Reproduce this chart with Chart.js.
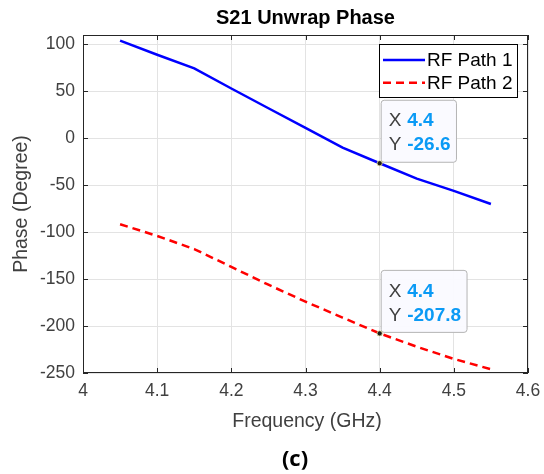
<!DOCTYPE html>
<html>
<head>
<meta charset="utf-8">
<script src="https://cdn.jsdelivr.net/npm/chart.js@4.4.1/dist/chart.umd.min.js"></script>
<style>
  html, body { margin: 0; padding: 0; background: #ffffff; }
  canvas { display: block; }
</style>
</head>
<body>
<canvas id="chart" width="544" height="474"></canvas>
<script>
// Frequency points (GHz)
const frequency = [4.05, 4.10, 4.15, 4.20, 4.25, 4.30, 4.35, 4.40, 4.45, 4.50, 4.55];
// Unwrapped S21 phase (degrees)
const rfPath1 = [104, 89, 74.5, 53, 32, 11, -10, -26.6, -43, -56, -70];
const rfPath2 = [-91.5, -104, -118, -137, -156, -174, -191, -207.8, -222, -235, -246];
const seriesNames = ['RF Path 1', 'RF Path 2'];
// Axis tick values
const xTicks = [4, 4.1, 4.2, 4.3, 4.4, 4.5, 4.6];
const xTickLabels = ['4', '4.1', '4.2', '4.3', '4.4', '4.5', '4.6'];
const yTicks = [-250, -200, -150, -100, -50, 0, 50, 100];
// Data tips at 4.4 GHz
const tipFrequency = 4.4;
const tipIndex = frequency.indexOf(tipFrequency);

const FONT = '"Liberation Sans", Arial, Helvetica, sans-serif';
const AXIS_COLOR = '#262626';
const TEXT_COLOR = '#404040';

function toPoints(ys) {
  return frequency.map((f, i) => ({ x: f, y: ys[i] }));
}

const decorations = {
  id: 'decorations',
  afterDraw(chart) {
    const ctx = chart.ctx;
    const a = chart.chartArea;
    const xs = chart.scales.x, ys = chart.scales.y;
    ctx.save();

    // axes box
    ctx.strokeStyle = AXIS_COLOR;
    ctx.lineWidth = 1;
    ctx.strokeRect(Math.round(a.left) + 0.5, Math.round(a.top) + 0.5,
                   Math.round(a.right - a.left) - 1, Math.round(a.bottom - a.top) - 1);

    // inward tick marks on all four sides
    const tl = 5;
    ctx.beginPath();
    xTicks.forEach(v => {
      const px = Math.round(xs.getPixelForValue(v)) + 0.5;
      ctx.moveTo(px, a.bottom); ctx.lineTo(px, a.bottom - tl);
      ctx.moveTo(px, a.top); ctx.lineTo(px, a.top + tl);
    });
    yTicks.forEach(v => {
      const py = Math.round(ys.getPixelForValue(v)) + 0.5;
      ctx.moveTo(a.left, py); ctx.lineTo(a.left + tl, py);
      ctx.moveTo(a.right, py); ctx.lineTo(a.right - tl, py);
    });
    ctx.stroke();

    // data tips
    chart.data.datasets.forEach(ds => {
      const val = ds.data[tipIndex];
      const px = xs.getPixelForValue(val.x);
      const py = ys.getPixelForValue(val.y);
      const xs1 = String(val.x), ys1 = val.y.toFixed(1);
      ctx.font = 'bold 19px ' + FONT;
      const vw = Math.max(ctx.measureText(xs1).width, ctx.measureText(ys1).width);
      const w = 26 + vw + 6;
      const h = 62;
      const bx = px + 1.5, by = py - 1 - h;
      ctx.beginPath();
      ctx.roundRect(bx, by, w, h, 3);
      ctx.fillStyle = 'rgba(250,250,255,0.96)';
      ctx.fill();
      ctx.strokeStyle = '#b4b4b4';
      ctx.lineWidth = 1;
      ctx.stroke();
      ctx.textBaseline = 'middle';
      ctx.textAlign = 'left';
      ctx.font = '19px ' + FONT;
      ctx.fillStyle = TEXT_COLOR;
      ctx.fillText('X', bx + 7.5, by + 21);
      ctx.fillText('Y', bx + 7.5, by + 45);
      ctx.font = 'bold 19px ' + FONT;
      ctx.fillStyle = '#0a9af5';
      ctx.fillText(xs1, bx + 26, by + 21);
      ctx.fillText(ys1, bx + 26, by + 45);
      // marker
      ctx.beginPath();
      ctx.arc(px, py, 2.6, 0, Math.PI * 2);
      ctx.fillStyle = '#1a1a1a';
      ctx.fill();
      ctx.strokeStyle = '#f0e6a0';
      ctx.lineWidth = 0.8;
      ctx.stroke();
    });

    // legend
    const lx = 379.5, ly = 44.5, lw = 138, lh = 53;
    ctx.fillStyle = '#ffffff';
    ctx.fillRect(lx, ly, lw, lh);
    ctx.strokeStyle = '#000000';
    ctx.lineWidth = 1;
    ctx.strokeRect(lx, ly, lw, lh);
    chart.data.datasets.forEach((ds, i) => {
      const cy = 60 + i * 22.7;
      ctx.beginPath();
      ctx.setLineDash(ds.borderDash || []);
      ctx.strokeStyle = ds.borderColor;
      ctx.lineWidth = ds.borderWidth;
      ctx.moveTo(383, cy); ctx.lineTo(425, cy);
      ctx.stroke();
      ctx.setLineDash([]);
      ctx.fillStyle = '#000000';
      ctx.font = '19px ' + FONT;
      ctx.textAlign = 'left';
      ctx.textBaseline = 'middle';
      ctx.fillText(ds.label, 427, cy + 1);
    });

    // titles
    ctx.fillStyle = '#000000';
    ctx.textAlign = 'center';
    ctx.textBaseline = 'middle';
    ctx.font = 'bold 20px ' + FONT;
    ctx.fillText('S21 Unwrap Phase', (a.left + a.right) / 2, 18);

    ctx.fillStyle = TEXT_COLOR;
    ctx.font = '19.5px ' + FONT;
    ctx.fillText('Frequency (GHz)', 307, 422);
    ctx.save();
    ctx.translate(22, (a.top + a.bottom) / 2);
    ctx.rotate(-Math.PI / 2);
    ctx.fillText('Phase (Degree)', 0, 0);
    ctx.restore();

    ctx.fillStyle = '#000000';
    ctx.font = 'bold 22px "Open Sans", "Liberation Sans", sans-serif';
    ctx.fillText('(c)', 295, 460);

    ctx.restore();
  }
};

new Chart(document.getElementById('chart'), {
  type: 'scatter',
  data: {
    datasets: [
      {
        label: seriesNames[0],
        data: toPoints(rfPath1),
        showLine: true,
        borderColor: '#0000ff',
        backgroundColor: '#0000ff',
        borderWidth: 2.5,
        pointRadius: 0,
        tension: 0
      },
      {
        label: seriesNames[1],
        data: toPoints(rfPath2),
        showLine: true,
        borderColor: '#ff0000',
        backgroundColor: '#ff0000',
        borderWidth: 2.5,
        borderDash: [8, 5],
        pointRadius: 0,
        tension: 0
      }
    ]
  },
  options: {
    responsive: false,
    animation: false,
    layout: { padding: { left: 0, top: 35, right: 16, bottom: 0 } },
    plugins: {
      legend: { display: false },
      title: { display: false },
      tooltip: { enabled: false }
    },
    scales: {
      x: {
        type: 'linear',
        min: 4,
        max: 4.6,
        afterFit(s) { s.height = 101; s.paddingLeft = 0; s.paddingRight = 0; },
        afterBuildTicks(s) { s.ticks = xTicks.map(v => ({ value: v })); },
        ticks: {
          autoSkip: false,
          maxRotation: 0,
          padding: 8,
          color: TEXT_COLOR,
          font: { family: FONT, size: 17.5 },
          callback: (v) => xTickLabels[xTicks.indexOf(v)] ?? String(v)
        },
        grid: { color: '#e3e3e3', lineWidth: 1, drawTicks: false },
        border: { display: false }
      },
      y: {
        type: 'linear',
        min: -250,
        max: 110,
        afterFit(s) { s.width = 83; s.paddingTop = 0; s.paddingBottom = 0; },
        afterBuildTicks(s) { s.ticks = yTicks.map(v => ({ value: v })); },
        ticks: {
          autoSkip: false,
          padding: 8,
          color: TEXT_COLOR,
          font: { family: FONT, size: 17.5 },
          callback: (v) => String(v)
        },
        grid: { color: '#e3e3e3', lineWidth: 1, drawTicks: false },
        border: { display: false }
      }
    }
  },
  plugins: [decorations]
});
</script>
</body>
</html>
